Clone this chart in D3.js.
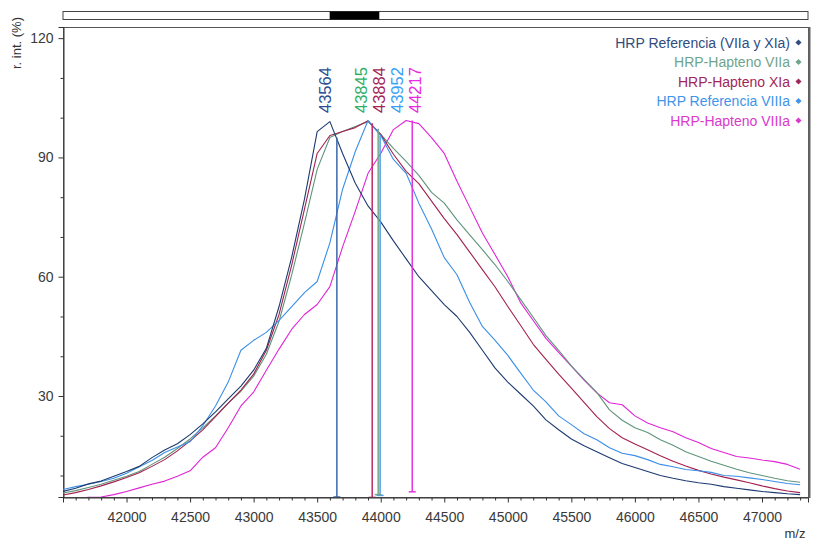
<!DOCTYPE html>
<html><head><meta charset="utf-8">
<script src="https://cdn.jsdelivr.net/npm/d3@7"></script>
<style>body{margin:0;background:#fff}svg{display:block;font-family:"Liberation Sans",Arial,sans-serif}</style>
</head><body><svg id="c" width="817" height="542"></svg>
<script>
// ---------- data ----------
const mzStart = 41500, mzStep = 100;
const seriesNames = ["HRP Referencia (VIIa y XIa)","HRP-Hapteno VIIa","HRP-Hapteno XIa","HRP Referencia VIIIa","HRP-Hapteno VIIIa"];
const refVIIaXIa = [6.0,6.8,7.9,8.6,9.8,11.0,12.3,14.5,16.4,18.0,20.3,23.0,26.0,29.3,32.5,36.5,42.0,52.5,65.0,79.5,96.5,99.0,91.0,83.5,77.8,73.8,69.0,64.5,60.0,56.5,53.0,50.0,46.0,41.5,37.0,33.5,30.5,27.5,24.0,21.5,19.2,17.5,16.0,14.5,13.0,12.0,11.0,10.0,9.3,8.7,8.2,7.8,7.2,6.8,6.4,6.0,5.7,5.4,5.2];
const haptVIIa = [5.6,6.2,7.0,7.8,8.8,9.8,11.0,12.8,14.6,16.8,19.2,22.0,25.0,28.2,31.2,35.0,40.5,48.8,60.5,73.5,87.0,95.0,96.5,97.8,99.0,95.8,92.3,89.0,85.5,81.2,78.5,74.3,70.5,66.8,63.0,58.8,54.3,49.8,45.2,41.5,37.6,34.2,30.9,26.5,23.9,22.0,20.8,19.0,17.6,16.0,14.8,13.6,12.6,11.6,10.7,10.0,9.3,8.7,8.3];
const haptXIa = [5.1,5.7,6.5,7.4,8.4,9.5,10.7,12.3,14.0,16.2,18.7,21.5,24.8,28.2,31.5,35.5,41.5,50.5,63.0,77.0,91.0,95.5,96.5,97.5,99.2,95.8,90.8,86.5,83.4,79.0,74.6,70.6,66.2,61.8,57.4,52.5,47.8,43.0,39.2,35.5,32.0,28.4,24.8,21.8,19.5,17.9,16.5,15.0,13.6,12.4,11.3,10.4,9.6,8.9,8.2,7.4,6.7,6.1,5.7];
const refVIIIa = [6.5,7.2,7.8,8.5,9.3,10.6,12.2,13.8,15.8,17.2,18.5,22.5,27.5,33.5,41.5,44.0,46.0,49.0,52.5,56.0,58.8,68.5,82.0,91.5,99.3,95.5,89.5,86.0,78.5,72.0,64.8,60.5,53.5,47.5,44.0,40.2,35.8,31.5,28.5,25.0,22.8,20.5,19.0,17.0,15.6,15.0,14.0,12.8,12.2,11.5,11.2,10.8,10.0,9.8,9.4,9.0,8.5,8.0,7.7];
const haptVIIIa = [4.4,4.3,4.5,4.6,5.2,6.0,6.9,7.8,8.6,9.8,11.2,14.6,17.0,22.0,27.5,31.0,36.5,41.8,46.8,50.5,53.0,57.5,67.5,76.5,86.0,91.0,97.0,99.3,98.5,95.0,91.0,84.0,77.5,71.0,65.5,60.0,53.5,49.0,44.5,41.0,37.5,34.0,30.8,28.3,27.8,25.0,23.2,22.0,21.0,19.5,18.3,16.8,15.8,14.8,14.4,13.9,13.5,12.8,11.6];
// peak labels (ordered as in the reference)
const peakLabels = [43564, 43845, 43884, 43952, 44217];
const peakLabelSeries = [0, 1, 2, 3, 4];
// centroid marker lines: series index, m/z, top intensity, bottom intensity (drawing order)
const markerSeries = [0, 3, 2, 1, 4];
const markerMz = [43655, 43995, 43933, 43980, 44248];
const markerTop = [95.0, 95.5, 98.6, 97.2, 99.3];
const markerBottom = [4.6, 5.0, 4.5, 5.2, 5.9];
const xTicks = [42000,42500,43000,43500,44000,44500,45000,45500,46000,46500,47000];
const yTicks = [30,60,90,120];
const xDomain = [41500, 47362];
const yDomain = [4.6, 122.8];
const overviewDomain = [10000, 98000];

// ---------- styles (indexed by series) ----------
const lineColors = ["#1d3b70","#5f957a","#a3214f","#3a8fe8","#e024d6"];
const legendColors = ["#2f4d80","#6fa48c","#a1275a","#4194ea","#d93acb"];
const labelColors = ["#2b4f92","#2fae66","#a42456","#38a0f5","#e82ae0"];
const markerColors = ["#3a66a8","#76a68a","#c2286a","#4a9cf0","#e236dc"];

const svg = d3.select("#c");
const M = {l:63, r:808, t:27, b:497};
const x = d3.scaleLinear().domain(xDomain).range([M.l, M.r]);
const y = d3.scaleLinear().domain(yDomain).range([M.b, M.t]);

// overview bar
const ov = d3.scaleLinear().domain(overviewDomain).range([M.l, M.r]);
svg.append("rect").attr("x", M.l).attr("y", 11.5).attr("width", M.r - M.l).attr("height", 8)
  .attr("fill", "#fff").attr("stroke", "#444").attr("stroke-width", 1);
svg.append("rect").attr("x", ov(xDomain[0])).attr("y", 11.5).attr("width", ov(xDomain[1]) - ov(xDomain[0])).attr("height", 8)
  .attr("fill", "#000");

// clip
svg.append("clipPath").attr("id","clip").append("rect")
  .attr("x", M.l).attr("y", M.t).attr("width", M.r - M.l).attr("height", M.b - M.t);

// frame
svg.append("rect").attr("x", M.l + 0.5).attr("y", M.t + 0.5).attr("width", M.r - M.l).attr("height", M.b - M.t)
  .attr("fill","none").attr("stroke","#555").attr("stroke-width",1);
svg.append("line").attr("x1", M.r + 1.5).attr("x2", M.r + 1.5).attr("y1", M.t).attr("y2", M.b + 1).attr("stroke","#666").attr("stroke-width",2);

// axes
const xAxis = d3.axisBottom(x).tickValues(xTicks).tickFormat(d3.format("d")).tickSize(5).tickPadding(10);
const gx = svg.append("g").attr("transform", `translate(0,${M.b + 0.5})`).call(xAxis);
const xMinor = d3.range(41600, 47400, 100).filter(v => v % 500 !== 0);
gx.selectAll(".minor").data(xMinor).enter().append("line").attr("class","minor")
  .attr("x1", d => x(d) + 0.5).attr("x2", d => x(d) + 0.5).attr("y1", 0).attr("y2", 3).attr("stroke","#333");
const yAxis = d3.axisLeft(y).tickValues(yTicks).tickSize(5).tickPadding(5);
const gy = svg.append("g").attr("transform", `translate(${M.l + 0.5},0)`).call(yAxis);
const yMinor = [10,20,40,50,70,80,100,110];
gy.selectAll(".minor").data(yMinor).enter().append("line").attr("class","minor")
  .attr("x1", 0).attr("x2", -3).attr("y1", d => y(d) + 0.5).attr("y2", d => y(d) + 0.5).attr("stroke","#333");
[gx, gy].forEach(g => {
  g.select(".domain").attr("stroke","#333");
  g.selectAll(".tick line").attr("stroke","#333");
  g.selectAll("text").attr("fill","#3a3a3a").attr("font-size","14px").attr("font-family","'Liberation Sans',Arial,sans-serif");
});

// axis titles
svg.append("text").attr("transform","translate(21,43) rotate(-90)").attr("text-anchor","middle")
  .attr("font-size","13px").attr("fill","#333").text("r. int. (%)");
svg.append("text").attr("x", 795).attr("y", 538).attr("text-anchor","middle")
  .attr("font-size","13px").attr("fill","#333").text("m/z");

// series
const allSeries = [refVIIaXIa, haptVIIa, haptXIa, refVIIIa, haptVIIIa];
const line = d3.line().x((d,i) => x(mzStart + i * mzStep)).y(d => y(d));
const plot = svg.append("g").attr("clip-path","url(#clip)");
const drawOrder = [4, 1, 2, 3, 0];
drawOrder.forEach(k => {
  plot.append("path").datum(allSeries[k]).attr("d", line)
    .attr("fill","none").attr("stroke", lineColors[k]).attr("stroke-width", 1.1).attr("stroke-linejoin","round");
});

// marker lines
markerMz.forEach((m, i) => {
  const c = markerColors[markerSeries[i]];
  plot.append("line").attr("x1", x(m)).attr("x2", x(m)).attr("y1", y(markerTop[i])).attr("y2", y(markerBottom[i]))
    .attr("stroke", c).attr("stroke-width", 1.5);
  plot.append("line").attr("x1", x(m) - 3.5).attr("x2", x(m) + 3.5).attr("y1", y(markerBottom[i])).attr("y2", y(markerBottom[i]))
    .attr("stroke", c).attr("stroke-width", 1.5);
});

// peak labels with simple left-to-right de-cluttering
const minGap = 18;
let lastX = -1e9;
const labelX = peakLabels.map(v => { let px = Math.max(x(v), lastX + minGap); lastX = px; return px; });
peakLabels.forEach((v, i) => {
  svg.append("text").attr("transform", `translate(${labelX[i]},113) rotate(-90)`).attr("dy","0.36em")
    .attr("font-size","16.5px").attr("fill", labelColors[peakLabelSeries[i]]).text(v);
});

// legend
seriesNames.forEach((n, i) => {
  const yy = 47.5 + i * 19.5;
  svg.append("text").attr("x", 790).attr("y", yy).attr("text-anchor","end")
    .attr("font-size","14px").attr("fill", legendColors[i]).text(n);
  svg.append("path").attr("d", d3.symbol(d3.symbolDiamond2, 24)())
    .attr("transform", `translate(798.5,${yy - 5})`).attr("fill", legendColors[i]);
});
</script></body></html>
